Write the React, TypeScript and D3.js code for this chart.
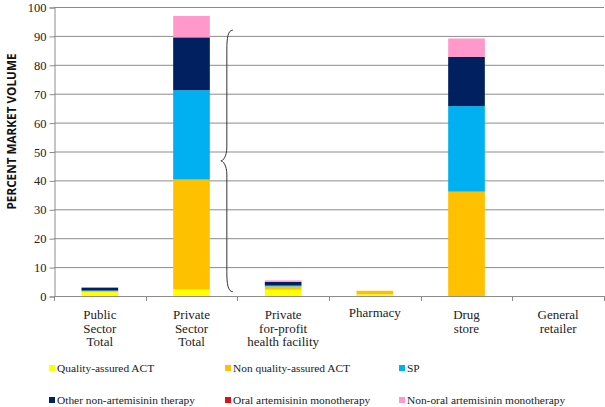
import React, { useRef, useEffect } from 'react';
import * as d3 from 'd3';

const categories = [
  'Public|Sector|Total',
  'Private|Sector|Total',
  'Private|for-profit|health facility',
  'Pharmacy',
  'Drug|store',
  'General|retailer',
];

const seriesNames = [
  'Quality-assured ACT',
  'Non quality-assured ACT',
  'SP',
  'Other non-artemisinin therapy',
  'Oral artemisinin monotherapy',
  'Non-oral artemisinin monotherapy',
];

const seriesColors = ['#ffff00', '#ffc000', '#00b0f0', '#002060', '#e01010', '#ff99cc'];

// values per category, one array per series
const qualityAssuredACT = [1.6, 2.3, 2.2, 0.6, 0, 0];
const nonQualityAssuredACT = [0, 38.0, 1.1, 1.2, 36.1, 0];
const spValues = [0.3, 30.9, 0.3, 0, 29.6, 0];
const otherNonArtemisinin = [1.0, 18.3, 1.3, 0, 17.0, 0];
const oralMonotherapy = [0, 0, 0, 0, 0, 0];
const nonOralMonotherapy = [0, 7.4, 0.5, 0, 6.4, 0];

const yTicks = [0, 10, 20, 30, 40, 50, 60, 70, 80, 90, 100];

// brace spans the private sector total from this value to this value
const braceRange = [1.5, 92];

const App: React.FC = () => {
  const ref = useRef<SVGSVGElement | null>(null);

  useEffect(() => {
    if (!ref.current) return;
    const svg = d3.select(ref.current);
    svg.selectAll('*').remove();

    const width = 605;
    const height = 407;
    const margin = { top: 7, right: 1, bottom: 111, left: 54 };
    const axisColor = '#8c8c8c';
    const serif = "'Liberation Serif', 'Times New Roman', serif";

    const x = d3.scaleBand<string>()
      .domain(categories)
      .range([margin.left, width - margin.right])
      .paddingInner(0.6)
      .paddingOuter(0.3);

    const y = d3.scaleLinear()
      .domain([0, 100])
      .range([height - margin.bottom, margin.top]);

    const series = [
      qualityAssuredACT,
      nonQualityAssuredACT,
      spValues,
      otherNonArtemisinin,
      oralMonotherapy,
      nonOralMonotherapy,
    ];

    const table = categories.map((c, i) => {
      const row: any = { cat: c };
      seriesNames.forEach((s, j) => { row[s] = series[j][i]; });
      return row;
    });

    const stacked = d3.stack<any>().keys(seriesNames)(table);

    // gridlines
    svg.append('g')
      .selectAll('line')
      .data(yTicks.filter(t => t > 0))
      .enter()
      .append('line')
      .attr('x1', margin.left)
      .attr('x2', width - margin.right)
      .attr('y1', d => y(d) + 0.5)
      .attr('y2', d => y(d) + 0.5)
      .attr('stroke', axisColor)
      .attr('stroke-width', 1);

    // y axis
    const yAxis = svg.append('g')
      .attr('transform', `translate(${margin.left + 0.5},0.5)`)
      .call(d3.axisLeft(y).tickValues(yTicks).tickSize(5).tickPadding(3));
    yAxis.selectAll('path, line').attr('stroke', axisColor);
    yAxis.attr('font-family', null);
    yAxis.selectAll('text')
      .style('font-family', serif)
      .style('font-size', '12.5px')
      .attr('fill', '#222');

    // x axis with ticks on band boundaries
    const xAxisG = svg.append('g');
    xAxisG.append('line')
      .attr('x1', margin.left)
      .attr('x2', width - margin.right)
      .attr('y1', y(0) + 0.5)
      .attr('y2', y(0) + 0.5)
      .attr('stroke', axisColor);
    const step = x.step();
    const bounds = categories.map((c, i) => (x(categories[0])! - step * 0.3) + step * (i + 1));
    xAxisG.selectAll('.xt')
      .data([margin.left, ...bounds])
      .enter()
      .append('line')
      .attr('x1', d => Math.round(d) + 0.5)
      .attr('x2', d => Math.round(d) + 0.5)
      .attr('y1', y(0))
      .attr('y2', y(0) + 5)
      .attr('stroke', axisColor);

    // bars
    svg.append('g')
      .selectAll('g')
      .data(stacked)
      .enter()
      .append('g')
      .attr('fill', (d, i) => seriesColors[i])
      .selectAll('rect')
      .data(d => d)
      .enter()
      .append('rect')
      .attr('x', d => x(d.data.cat)!)
      .attr('width', x.bandwidth())
      .attr('y', d => y(d[1]))
      .attr('height', d => y(d[0]) - y(d[1]));

    // curly brace next to the private sector bar
    const bx = x(categories[1])! + x.bandwidth() + 18;
    const top = y(braceRange[1]);
    const bot = y(braceRange[0]);
    const mid = (top + bot) / 2;
    const d = 5;
    const bracePath = `M${bx + 5},${top}
      C${bx},${top} ${bx - 1},${top + 8} ${bx - 1},${top + 20}
      L${bx - 1},${mid - 14}
      C${bx - 1},${mid - 4} ${bx - d},${mid} ${bx - d - 2},${mid}
      C${bx - d},${mid} ${bx - 1},${mid + 4} ${bx - 1},${mid + 14}
      L${bx - 1},${bot - 20}
      C${bx - 1},${bot - 8} ${bx},${bot} ${bx + 5},${bot}`;
    svg.append('path')
      .attr('d', bracePath)
      .attr('fill', 'none')
      .attr('stroke', '#333')
      .attr('stroke-width', 1);

    // category labels
    const labels = svg.append('g')
      .style('font-family', serif)
      .style('font-size', '13px')
      .attr('fill', '#222')
      .attr('text-anchor', 'middle');
    categories.forEach((c, i) => {
      const lines = c.split('|');
      const t = labels.append('text')
        .attr('x', x(c)! + x.bandwidth() / 2)
        .attr('y', lines.length === 1 ? 317 : 319);
      lines.forEach((ln, k) => {
        t.append('tspan')
          .attr('x', x(c)! + x.bandwidth() / 2)
          .attr('dy', k === 0 ? 0 : 13.5)
          .text(ln);
      });
    });

    // y axis title
    svg.append('text')
      .attr('transform', `translate(16,${(y(0) + y(100)) / 2 - 20}) rotate(-90)`)
      .attr('text-anchor', 'middle')
      .style('font-family', "'Open Sans', 'DejaVu Sans', sans-serif")
      .style('font-weight', 'bold')
      .style('font-size', '11.5px')
      .attr('textLength', 156)
      .attr('lengthAdjust', 'spacingAndGlyphs')
      .attr('fill', '#111')
      .text('PERCENT MARKET VOLUME');

    // legend
    const legendCols = [49, 225, 399];
    const legendRows = [368, 400];
    const legend = svg.append('g')
      .style('font-family', serif)
      .style('font-size', '11.4px')
      .attr('fill', '#222');
    seriesNames.forEach((s, i) => {
      const lx = legendCols[i % 3];
      const ly = legendRows[Math.floor(i / 3)];
      legend.append('rect')
        .attr('x', lx)
        .attr('y', ly - 3)
        .attr('width', 6)
        .attr('height', 6)
        .attr('fill', seriesColors[i]);
      legend.append('text')
        .attr('x', lx + 8)
        .attr('y', ly + 4)
        .text(s);
    });
  }, []);

  return (
    <svg
      ref={ref}
      width={605}
      height={407}
      style={{ position: 'absolute', left: 0, top: 0, background: '#fff' }}
    />
  );
};

export default App;
